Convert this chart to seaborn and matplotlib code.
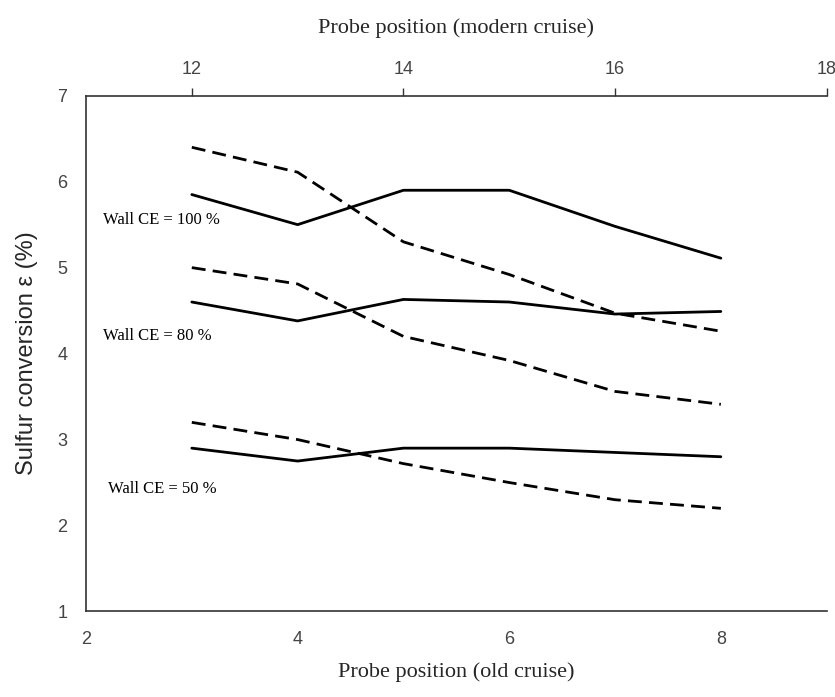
import matplotlib
matplotlib.use("Agg")
import matplotlib.pyplot as plt
import seaborn as sns
import pandas as pd

# Probe positions (old cruise numbering); modern numbering is offset by +9
positions = [3, 4, 5, 6, 7, 8]
offset_modern = 9

# Sulfur conversion (%) for each wall collection efficiency
solid_100 = [5.85, 5.50, 5.90, 5.90, 5.48, 5.11]
dashed_100 = [6.40, 6.11, 5.30, 4.92, 4.47, 4.26]
solid_80 = [4.60, 4.38, 4.63, 4.60, 4.46, 4.49]
dashed_80 = [5.00, 4.81, 4.20, 3.92, 3.56, 3.41]
solid_50 = [2.90, 2.75, 2.90, 2.90, 2.85, 2.80]
dashed_50 = [3.20, 3.00, 2.72, 2.50, 2.30, 2.20]

wall_labels = ["Wall CE = 100 %", "Wall CE = 80 %", "Wall CE = 50 %"]
label_pos = [(2.16, 5.55), (2.16, 4.2), (2.21, 2.42)]

series = {
    ("100", "solid"): solid_100, ("100", "dashed"): dashed_100,
    ("80", "solid"): solid_80, ("80", "dashed"): dashed_80,
    ("50", "solid"): solid_50, ("50", "dashed"): dashed_50,
}
rows = []
for (ce, kind), vals in series.items():
    for p, v in zip(positions, vals):
        rows.append({"pos": p, "conv": v, "ce": ce, "kind": kind})
df = pd.DataFrame(rows)

sns.set_theme(style="white")
plt.rcParams["font.family"] = ["Liberation Sans", "DejaVu Sans"]

fig = plt.figure(figsize=(8.35, 6.97), dpi=100)
ax = fig.add_axes([0.103, 0.1227, 0.887, 0.740])

sns.lineplot(data=df, x="pos", y="conv", units="ce", style="kind",
             estimator=None, color="black", linewidth=2.0,
             dashes={"solid": "", "dashed": (5, 2.6)}, legend=False, ax=ax)

ax.set_xlim(2, 9)
ax.set_ylim(1, 7)
ax.set_xticks([2, 4, 6, 8])
ax.set_yticks([1, 2, 3, 4, 5, 6, 7])
ax.tick_params(axis="both", direction="out", width=1, colors="#333333",
               labelsize=13, labelcolor="#444444")
ax.tick_params(axis="y", length=6.5, pad=7)
ax.tick_params(axis="x", length=4.5, pad=9.5)
for s in ["left", "bottom"]:
    ax.spines[s].set_color("#333333")
    ax.spines[s].set_linewidth(1.2)
ax.spines["right"].set_visible(False)
ax.spines["top"].set_visible(False)

ax.set_xlabel("Probe position (old cruise)", family="Liberation Serif",
              fontsize=16, labelpad=10)
ax.set_ylabel("Sulfur conversion ε (%)", fontsize=17, labelpad=14)

top = ax.secondary_xaxis("top", functions=(lambda x: x + offset_modern,
                                            lambda x: x - offset_modern))
top.set_xticks([12, 14, 16, 18])
top.tick_params(direction="out", length=6, width=1, colors="#333333",
                labelsize=13, labelcolor="#444444", pad=7)
top.spines["top"].set_color("#333333")
top.spines["top"].set_linewidth(1.2)
top.set_xlabel("Probe position (modern cruise)", family="Liberation Serif",
               fontsize=16, labelpad=20)

for text, (tx, ty) in zip(wall_labels, label_pos):
    ax.text(tx, ty, text, family="Liberation Serif", fontsize=12,
            ha="left", va="center", color="black")

fig.savefig("out.png", dpi=100, facecolor="white")
